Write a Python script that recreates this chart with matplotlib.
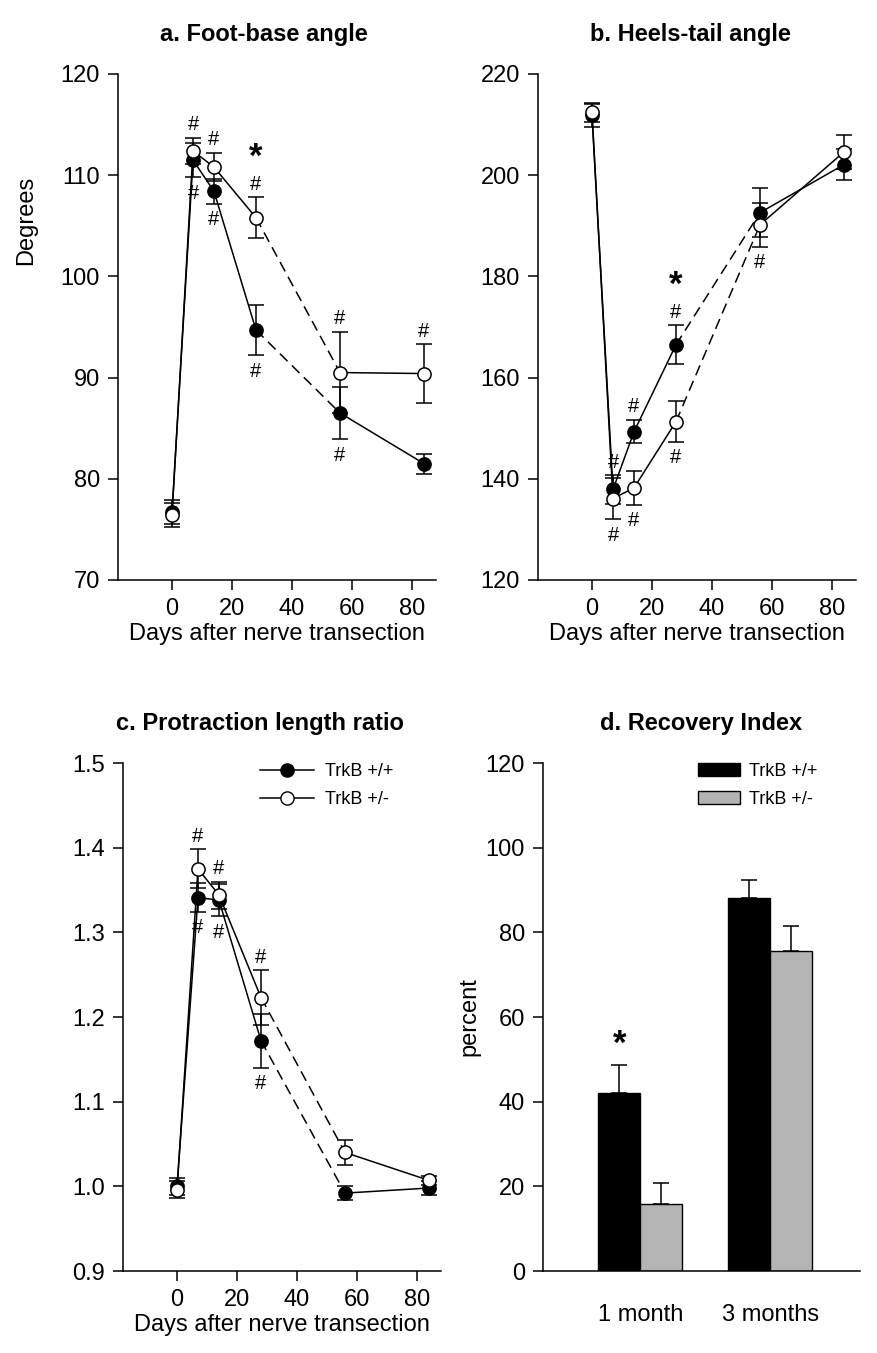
import numpy as np
import matplotlib
matplotlib.use('Agg')
import matplotlib.pyplot as plt
from matplotlib.lines import Line2D
from matplotlib.patches import Patch

plt.rcParams['font.family'] = ['Liberation Sans', 'DejaVu Sans']

days = [0, 7, 14, 28, 56, 84]

# a. foot-base angle (mean, sem)
fb_wt = [76.7, 111.5, 108.4, 94.7, 86.5, 81.5]
fb_wt_err = [1.2, 1.7, 1.2, 2.5, 2.6, 1.0]
fb_het = [76.4, 112.4, 110.8, 105.8, 90.5, 90.4]
fb_het_err = [1.2, 1.3, 1.4, 2.0, 4.0, 2.9]

# b. heels-tail angle
ht_wt = [211.8, 137.9, 149.3, 166.5, 192.6, 202.1]
ht_wt_err = [2.2, 2.8, 2.3, 3.8, 4.9, 3.0]
ht_het = [212.4, 136.1, 138.2, 151.3, 190.2, 204.6]
ht_het_err = [1.8, 4.1, 3.3, 4.0, 4.3, 3.3]

# c. protraction length ratio
pl_wt = [1.000, 1.341, 1.338, 1.172, 0.992, 0.998]
pl_wt_err = [0.010, 0.017, 0.019, 0.032, 0.008, 0.008]
pl_het = [0.996, 1.375, 1.344, 1.223, 1.040, 1.007]
pl_het_err = [0.010, 0.023, 0.016, 0.032, 0.015, 0.005]

# d. recovery index
periods = ['1 month', '3 months']
ri_wt = [42.1, 88.0]
ri_wt_err = [6.6, 4.3]
ri_het = [15.9, 75.7]
ri_het_err = [4.9, 5.9]

# '#' marks: where they sit relative to each point
fb_hash_wt = ['', 'below', 'below', 'below', 'below', '']
fb_hash_het = ['', 'above', 'above', 'above', 'above', 'above']
ht_hash_wt = ['', 'above', 'above', 'above', '', '']
ht_hash_het = ['', 'below', 'below', 'below', 'below', '']
pl_hash_wt = ['', 'below', 'below', 'below', '', '']
pl_hash_het = ['', 'above', 'above', 'above', '', '']

W, H = 878, 1353
fig = plt.figure(figsize=(W / 100, H / 100), dpi=100)


def px_axes(left, top, right, bottom):
    return fig.add_axes([left / W, 1 - bottom / H, (right - left) / W, (bottom - top) / H])


def style(ax):
    for s in ['top', 'right']:
        ax.spines[s].set_visible(False)
    for s in ['left', 'bottom']:
        ax.spines[s].set_linewidth(1.1)
    ax.tick_params(direction='out', length=7, width=1.1, labelsize=17, pad=6)


def series(ax, y, err, filled, hashes):
    ax.plot(days[:4], y[:4], '-', color='black', lw=1.1, zorder=1)
    ax.plot(days[3:5], y[3:5], '--', color='black', lw=1.1, dashes=(7, 4), zorder=1)
    ax.plot(days[4:], y[4:], '-', color='black', lw=1.1, zorder=1)
    ax.errorbar(days, y, yerr=err, fmt='none', ecolor='black', elinewidth=1.1,
                capsize=6, capthick=1.1, zorder=2)
    ax.plot(days, y, 'o', ms=9.5, mec='black', mew=1.1,
            mfc='black' if filled else 'white', ls='none', zorder=4 if not filled else 3)
    for d, v, e, h in zip(days, y, err, hashes):
        if h == 'above':
            ax.annotate('#', (d, v + e), xytext=(0, 9.5), textcoords='offset points',
                        ha='center', va='center', fontsize=14.5)
        elif h == 'below':
            ax.annotate('#', (d, v - e), xytext=(0, -11.5), textcoords='offset points',
                        ha='center', va='center', fontsize=14.5)


def star(ax, x, y, off):
    ax.annotate('*', (x, y), xytext=(0, off), textcoords='offset points',
                ha='center', va='center', fontsize=25, fontweight='bold')


title_kw = dict(fontsize=17, fontweight='bold', pad=24)

# a
ax = px_axes(118, 74, 436, 580)
series(ax, fb_wt, fb_wt_err, True, fb_hash_wt)
series(ax, fb_het, fb_het_err, False, fb_hash_het)
star(ax, days[3], fb_het[3] + fb_het_err[3], 29)
ax.set_xlim(-18, 88)
ax.set_ylim(70, 120)
ax.set_yticks(np.arange(70, 121, 10))
ax.set_xticks([0, 20, 40, 60, 80])
style(ax)
ax.set_xlabel('Days after nerve transection', fontsize=17, labelpad=2)
ax.set_ylabel('Degrees', fontsize=17)
ax.yaxis.set_label_coords(-0.255, 0.71)
ax.set_title('a. Foot-base angle', x=0.46, **title_kw)

# b
ax = px_axes(538, 74, 856, 580)
series(ax, ht_wt, ht_wt_err, True, ht_hash_wt)
series(ax, ht_het, ht_het_err, False, ht_hash_het)
star(ax, days[3], ht_wt[3] + ht_wt_err[3], 29)
ax.set_xlim(-18, 88)
ax.set_ylim(120, 220)
ax.set_yticks(np.arange(120, 221, 20))
ax.set_xticks([0, 20, 40, 60, 80])
style(ax)
ax.set_xlabel('Days after nerve transection', fontsize=17, labelpad=2)
ax.set_title('b. Heels-tail angle', x=0.48, **title_kw)

# c
ax = px_axes(123, 763, 441, 1271)
series(ax, pl_wt, pl_wt_err, True, pl_hash_wt)
series(ax, pl_het, pl_het_err, False, pl_hash_het)
ax.set_xlim(-18, 88)
ax.set_ylim(0.9, 1.5)
ax.set_yticks(np.arange(0.9, 1.51, 0.1))
ax.set_yticklabels(['%.1f' % v for v in np.arange(0.9, 1.51, 0.1)])
ax.set_xticks([0, 20, 40, 60, 80])
style(ax)
ax.set_xlabel('Days after nerve transection', fontsize=17, labelpad=2)
ax.set_title('c. Protraction length ratio', x=0.43, **title_kw)
handles = [Line2D([], [], color='black', lw=1.1, marker='o', ms=9.5, mfc='black', mec='black'),
           Line2D([], [], color='black', lw=1.1, marker='o', ms=9.5, mfc='white', mec='black')]
ax.legend(handles, ['TrkB +/+', 'TrkB +/-'], loc='upper left', bbox_to_anchor=(0.43, 1.0),
          frameon=False, fontsize=13, handlelength=3.0, handletextpad=0.6,
          labelspacing=0.6, borderpad=0, borderaxespad=0)

# d
ax = px_axes(543, 763, 860, 1271)
xg = np.arange(len(periods))
bw = 0.323
ax.bar(xg - bw / 2, ri_wt, bw, color='black', edgecolor='black', lw=1)
ax.bar(xg + bw / 2, ri_het, bw, color='#b4b4b4', edgecolor='black', lw=1)
ax.errorbar(xg - bw / 2, ri_wt, yerr=[np.zeros(2), ri_wt_err], fmt='none', ecolor='black',
            elinewidth=1.1, capsize=6, capthick=1.1)
ax.errorbar(xg + bw / 2, ri_het, yerr=[np.zeros(2), ri_het_err], fmt='none', ecolor='black',
            elinewidth=1.1, capsize=6, capthick=1.1)
star(ax, xg[0] - bw / 2, ri_wt[0] + ri_wt_err[0], 15)
ax.set_xlim(-0.75, 1.69)
ax.set_ylim(0, 120)
ax.set_yticks(np.arange(0, 121, 20))
ax.set_xticks(xg)
ax.set_xticklabels(periods)
style(ax)
ax.tick_params(axis='x', length=0, pad=24)
ax.set_ylabel('percent', fontsize=17)
ax.set_title('d. Recovery Index', x=0.5, **title_kw)
ax.legend([Patch(facecolor='black', edgecolor='black'), Patch(facecolor='#b4b4b4', edgecolor='black')],
          ['TrkB +/+', 'TrkB +/-'], loc='upper left', bbox_to_anchor=(0.49, 1.0),
          frameon=False, fontsize=13, handlelength=2.3, handleheight=0.7, handletextpad=0.5,
          labelspacing=0.6, borderpad=0, borderaxespad=0)

fig.savefig('out.png', dpi=100)
